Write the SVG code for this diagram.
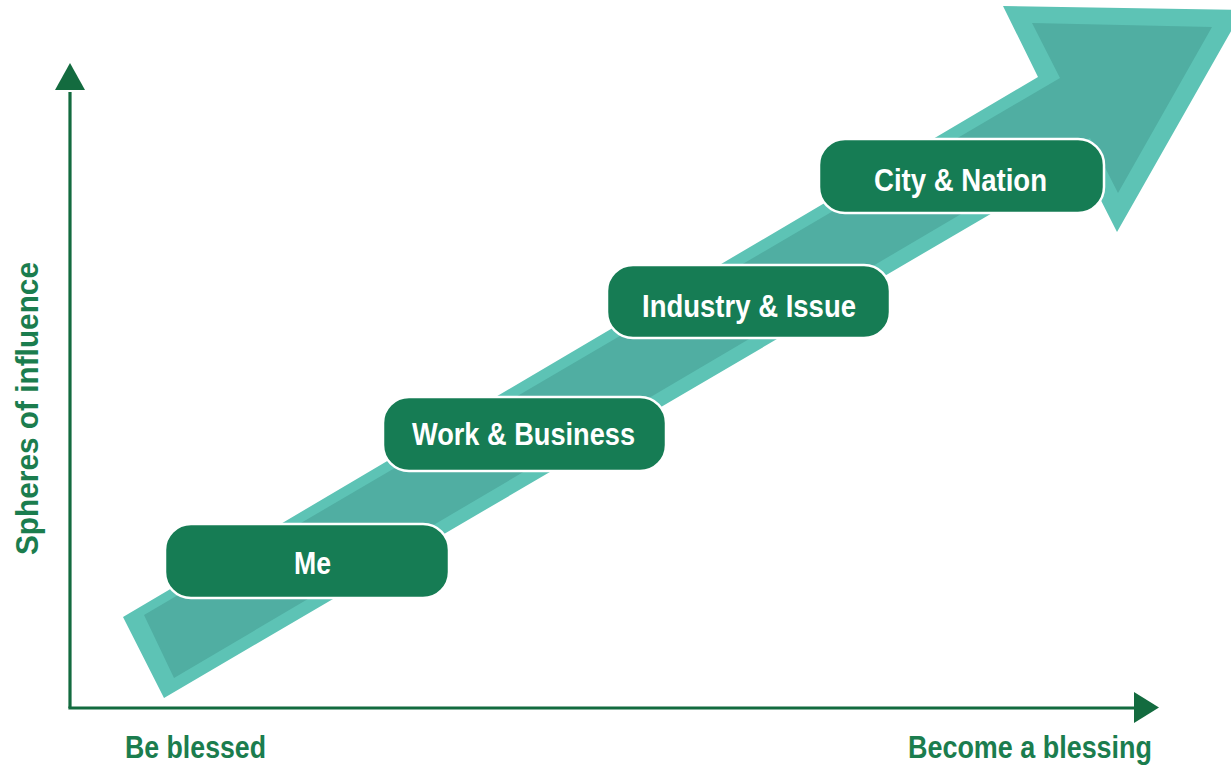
<svg xmlns="http://www.w3.org/2000/svg" width="1231" height="768" viewBox="0 0 1231 768">
  <style>
    .box { fill: #167c54; stroke: #ffffff; stroke-width: 2.5; }
    .btxt { fill: #ffffff; font-family: "Liberation Sans", Arial, sans-serif; font-weight: bold; font-size: 32px; text-anchor: middle; }
    .axis { stroke: #136b3f; stroke-width: 3.2; fill: none; }
    .ahead { fill: #136b3f; }
    .alabel { fill: #1b7d4e; font-family: "Liberation Sans", Arial, sans-serif; font-weight: bold; font-size: 31px; }
  </style>
  <rect width="1231" height="768" fill="#ffffff"/>

  <g id="growth-arrow">
    <polygon points="123,617 1038,77 1003,6 1243,10 1117,232 1081,161 164,698" fill="#5dc3b5"/>
    <polygon points="144,615 1060,78 1032,23 1212,27 1118,193 1090,138 174,678" fill="#50aea2"/>
  </g>

  <g id="connectors">
    <line class="axis" x1="70" y1="92" x2="70" y2="708"/>
    <line class="axis" x1="68.4" y1="708" x2="1136" y2="708"/>
    <polygon class="ahead" points="55,90 70,63 85,90"/>
    <polygon class="ahead" points="1134,692 1159,707.5 1134,723"/>
  </g>

  <g id="node-me">
    <rect class="box" x="165" y="524" width="284" height="74" rx="26"/>
    <text class="btxt" x="312.5" y="574" textLength="37" lengthAdjust="spacingAndGlyphs">Me</text>
  </g>
  <g id="node-work">
    <rect class="box" x="383" y="397" width="283" height="74" rx="26"/>
    <text class="btxt" x="523.5" y="445" textLength="223" lengthAdjust="spacingAndGlyphs">Work &amp; Business</text>
  </g>
  <g id="node-industry">
    <rect class="box" x="607" y="265" width="283" height="73" rx="26"/>
    <text class="btxt" x="749" y="317" textLength="214" lengthAdjust="spacingAndGlyphs">Industry &amp; Issue</text>
  </g>
  <g id="node-city">
    <rect class="box" x="819" y="139" width="285" height="74" rx="26"/>
    <text class="btxt" x="960.5" y="191" textLength="173" lengthAdjust="spacingAndGlyphs">City &amp; Nation</text>
  </g>

  <g id="axis-labels">
    <text class="alabel" x="125" y="758" textLength="141" lengthAdjust="spacingAndGlyphs">Be blessed</text>
    <text class="alabel" x="908" y="758" textLength="244" lengthAdjust="spacingAndGlyphs">Become a blessing</text>
    <text class="alabel" transform="translate(38,555) rotate(-90)" x="0" y="0" textLength="293" lengthAdjust="spacingAndGlyphs">Spheres of influence</text>
  </g>
</svg>
